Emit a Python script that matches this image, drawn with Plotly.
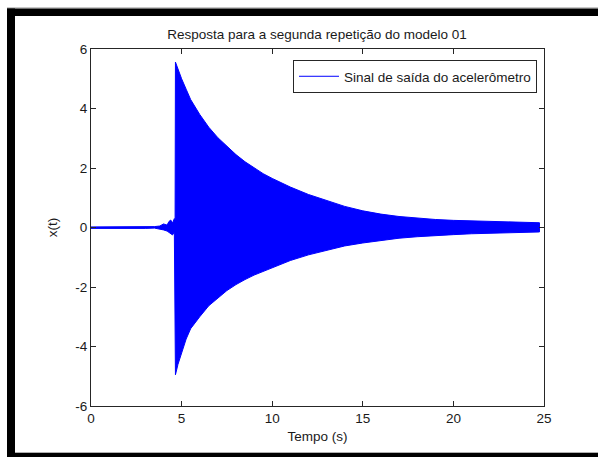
import plotly.graph_objects as go

# Time instants (s) at which the signal's positive/negative peak values were read
t_peaks = [0.0, 0.5, 1.0, 1.5, 2.0, 2.5, 3.0, 3.5, 3.8, 4.0, 4.2, 4.3, 4.4, 4.5, 4.6, 4.64,
           4.66, 4.8, 5.0, 5.25, 5.5, 6.0, 6.5, 7.0, 7.5, 8.0, 8.5, 9.0, 9.5, 10.0, 11.0, 12.0, 13.0,
           14.0, 15.0, 16.0, 17.0, 18.0, 19.0, 20.0, 21.0, 22.0, 23.0, 24.0, 24.75]
# Positive peaks of x(t)
x_upper = [0.02, 0.02, 0.03, 0.02, 0.02, 0.03, 0.02, 0.03, 0.05, 0.12, 0.08, 0.20, 0.25, 0.15, 0.30, 0.25,
           5.56, 5.30, 5.00, 4.65, 4.30, 3.80, 3.37, 3.02, 2.72, 2.45, 2.21, 2.00, 1.81, 1.65, 1.36, 1.11, 0.90,
           0.71, 0.56, 0.45, 0.37, 0.31, 0.27, 0.24, 0.22, 0.20, 0.18, 0.17, 0.16]
# Negative peaks of x(t)
x_lower = [-0.03, -0.02, -0.03, -0.03, -0.02, -0.03, -0.03, -0.02, -0.05, -0.08, -0.12, -0.15, -0.20, -0.25, -0.15, -0.25,
           -4.95, -4.60, -4.20, -3.75, -3.40, -3.00, -2.63, -2.36, -2.12, -1.92, -1.75, -1.60, -1.47, -1.35, -1.11, -0.92, -0.76,
           -0.62, -0.52, -0.43, -0.36, -0.31, -0.27, -0.24, -0.21, -0.19, -0.17, -0.16, -0.15]

x_ticks = [0, 5, 10, 15, 20, 25]
y_ticks = [-6, -4, -2, 0, 2, 4, 6]

title = "Resposta para a segunda repetição do modelo 01"
legend_label = "Sinal de saída do acelerômetro"

BLUE = "#0000ff"
FONT = "Liberation Sans, Arial, sans-serif"
TXT = "#1a1a1a"
FS = 13.5

fig = go.Figure()
# Envelope of the oscillating signal (solid band)
fig.add_trace(go.Scatter(
    x=t_peaks + t_peaks[::-1],
    y=x_upper + x_lower[::-1],
    mode="lines", fill="toself", fillcolor=BLUE,
    line=dict(color=BLUE, width=1), showlegend=False, hoverinfo="skip"))
# Legend entry (single point, draws nothing in the plot)
fig.add_trace(go.Scatter(x=t_peaks[:1], y=x_upper[:1], mode="lines",
                         line=dict(color=BLUE, width=1), name=legend_label,
                         hoverinfo="skip"))

W, H = 598, 457
L, R, T, B = 91, 544, 49, 406


def px(X):
    return (X - L) / (R - L)


def py(Y):
    return (B - Y) / (B - T)


shapes = [
    dict(type="rect", xref="paper", yref="paper", x0=px(7), x1=px(598), y0=py(7), y1=py(8.5),
         fillcolor="#c8c8c8", line=dict(width=0), layer="above"),
    dict(type="rect", xref="paper", yref="paper", x0=px(7), x1=px(598), y0=py(8.5), y1=py(16),
         fillcolor="black", line=dict(width=0), layer="above"),
    dict(type="rect", xref="paper", yref="paper", x0=px(7), x1=px(15), y0=py(8.5), y1=py(457),
         fillcolor="black", line=dict(width=0), layer="above"),
    dict(type="rect", xref="paper", yref="paper", x0=px(15), x1=px(598), y0=py(452), y1=py(453),
         fillcolor="#b0b0b0", line=dict(width=0), layer="above"),
    dict(type="rect", xref="paper", yref="paper", x0=px(7), x1=px(598), y0=py(453), y1=py(457),
         fillcolor="black", line=dict(width=0), layer="above"),
]

axis_common = dict(
    showline=True, linecolor="#262626", linewidth=1, mirror="ticks",
    ticks="inside", ticklen=5, tickcolor="#262626", tickwidth=1,
    showgrid=False, zeroline=False,
    tickfont=dict(family=FONT, size=FS, color=TXT),
)

fig.update_layout(
    width=W, height=H,
    margin=dict(l=L, r=W - R, t=T, b=H - B),
    paper_bgcolor="white", plot_bgcolor="white",
    font=dict(family=FONT, size=FS, color=TXT),
    title=dict(text=title, x=317 / W, xanchor="center", y=1 - 34 / H, yanchor="middle",
               font=dict(family=FONT, size=FS, color=TXT)),
    xaxis=dict(range=[0, 25], tickvals=x_ticks, ticktext=[str(v) for v in x_ticks],
               title=dict(text="Tempo (s)", standoff=6, font=dict(family=FONT, size=FS)),
               **axis_common),
    yaxis=dict(range=[-6, 6], tickvals=y_ticks, ticktext=[str(v) for v in y_ticks],
               title=dict(text="x(t)", standoff=14, font=dict(family=FONT, size=FS)),
               **axis_common),
    legend=dict(x=px(537), xanchor="right", y=py(60), yanchor="top",
                bgcolor="white", bordercolor="#262626", borderwidth=1, itemwidth=40,
                font=dict(family=FONT, size=FS, color=TXT)),
    shapes=shapes,
    showlegend=True,
)

fig.write_html("out.html")
